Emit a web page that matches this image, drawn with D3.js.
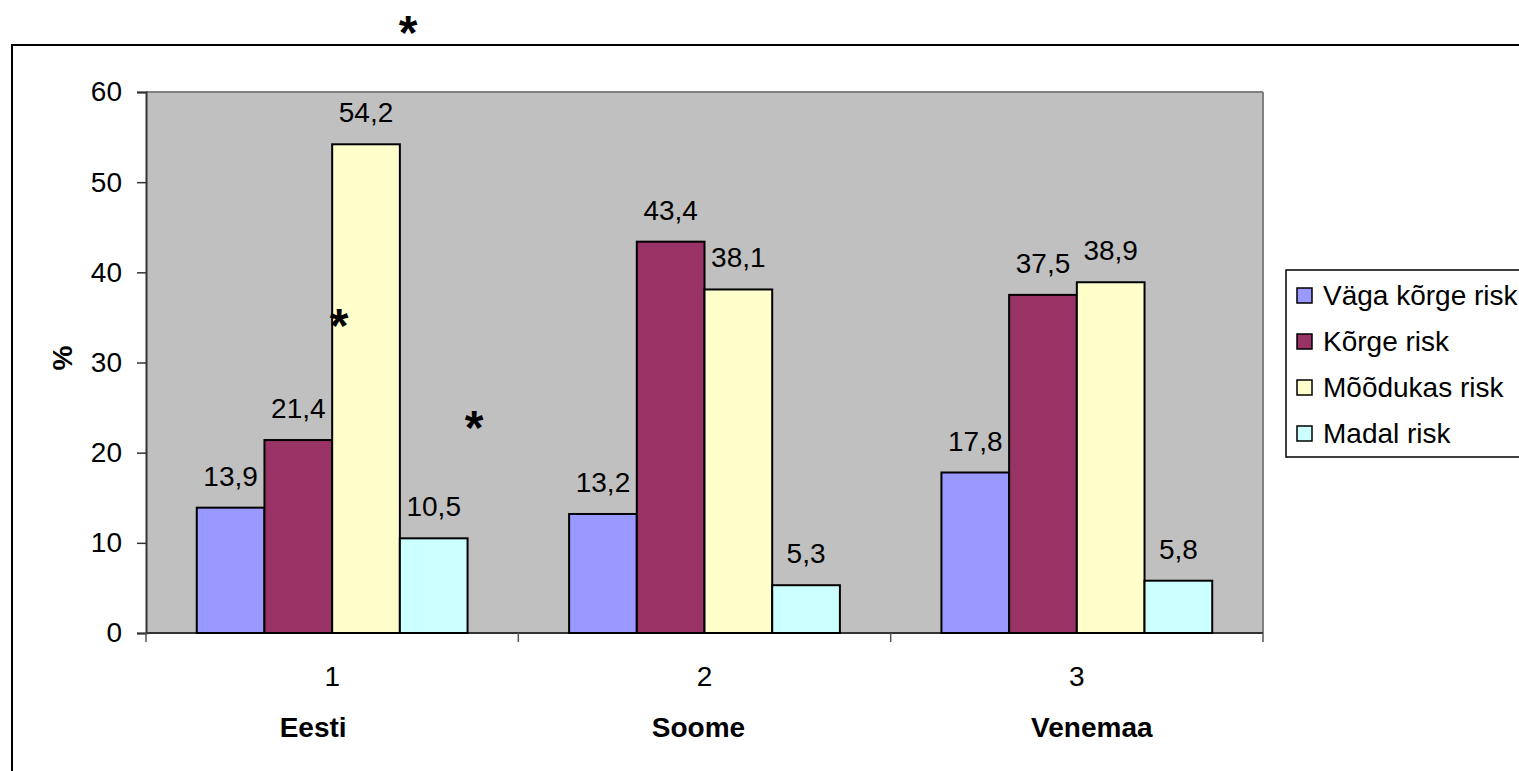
<!DOCTYPE html>
<html>
<head>
<meta charset="utf-8">
<script src="https://cdn.jsdelivr.net/npm/d3@7"></script>
<style>
  html, body { margin: 0; padding: 0; background: #fff; overflow: hidden; }
  svg { display: block; font-family: Arial, "Liberation Sans", sans-serif; }
</style>
</head>
<body>
<svg id="chart" width="1519" height="771"></svg>
<script>
// Riskirühmade jaotus riigiti (%)
const categories = ["1", "2", "3"];
const countryNames = ["Eesti", "Soome", "Venemaa"];
const seriesNames = ["Väga kõrge risk", "Kõrge risk", "Mõõdukas risk", "Madal risk"];
const vagaKorge = [13.9, 13.2, 17.8];
const korge = [21.4, 43.4, 37.5];
const moodukas = [54.2, 38.1, 38.9];
const madal = [10.5, 5.3, 5.8];
const yTicks = [0, 10, 20, 30, 40, 50, 60];
const seriesColors = ["#9999FF", "#993366", "#FFFFCC", "#CCFFFF"];

const seriesValues = [vagaKorge, korge, moodukas, madal];
const FS = 28;

const svg = d3.select("#chart");

// outer chart frame
svg.append("rect")
  .attr("x", 12).attr("y", 45)
  .attr("width", 1540).attr("height", 800)
  .attr("fill", "#fff").attr("stroke", "#000").attr("stroke-width", 2);

const plot = { left: 146, top: 92, right: 1263, bottom: 633 };

const x0 = d3.scaleBand()
  .domain(categories)
  .range([plot.left, plot.right])
  .paddingInner(0).paddingOuter(0);

// four bars per group, gap of 1.5 bar widths between groups
const barW = x0.bandwidth() / (4 + 1.5);
const x1 = d3.scaleBand()
  .domain(d3.range(seriesNames.length))
  .range([barW * 0.75, barW * 0.75 + barW * 4])
  .padding(0);

const y = d3.scaleLinear().domain([0, 60]).range([plot.bottom, plot.top]);

// plot area background
svg.append("rect")
  .attr("x", plot.left).attr("y", plot.top)
  .attr("width", plot.right - plot.left).attr("height", plot.bottom - plot.top)
  .attr("fill", "#C0C0C0");
svg.append("line")
  .attr("x1", plot.left).attr("x2", plot.right)
  .attr("y1", plot.top).attr("y2", plot.top)
  .attr("stroke", "#808080").attr("stroke-width", 2);
svg.append("line")
  .attr("x1", plot.right).attr("x2", plot.right)
  .attr("y1", plot.top).attr("y2", plot.bottom)
  .attr("stroke", "#808080").attr("stroke-width", 2);

// y axis
const yAxis = d3.axisLeft(y).tickValues(yTicks).tickSize(9).tickPadding(15);
const gy = svg.append("g").attr("transform", `translate(${plot.left},0)`).call(yAxis);
gy.select(".domain").attr("stroke", "#333").attr("stroke-width", 2);
gy.selectAll(".tick line").attr("stroke", "#333").attr("stroke-width", 1.5);
gy.selectAll(".tick text")
  .attr("font-size", FS).attr("fill", "#000")
  .attr("font-family", "Arial, 'Liberation Sans', sans-serif");

// x axis baseline and group separators
svg.append("line")
  .attr("x1", plot.left).attr("x2", plot.right)
  .attr("y1", plot.bottom).attr("y2", plot.bottom)
  .attr("stroke", "#333").attr("stroke-width", 2);
const sepPositions = categories.map(c => x0(c)).concat([plot.right]);
svg.selectAll("line.sep").data(sepPositions).enter().append("line")
  .attr("class", "sep")
  .attr("x1", d => d).attr("x2", d => d)
  .attr("y1", plot.bottom).attr("y2", plot.bottom + 9)
  .attr("stroke", "#555").attr("stroke-width", 1.5);

// category tick labels
svg.selectAll("text.cat").data(categories).enter().append("text")
  .attr("class", "cat")
  .attr("x", d => x0(d) + x0.bandwidth() / 2)
  .attr("y", 686)
  .attr("text-anchor", "middle")
  .attr("font-size", FS)
  .text(d => d);

// country names below the axis
const nameShift = [-19, -6, 15];
svg.selectAll("text.country").data(countryNames).enter().append("text")
  .attr("class", "country")
  .attr("x", (d, i) => x0(categories[i]) + x0.bandwidth() / 2 + nameShift[i])
  .attr("y", 737)
  .attr("text-anchor", "middle")
  .attr("font-size", FS)
  .attr("font-weight", "bold")
  .text(d => d);

// y axis title
svg.append("text")
  .attr("transform", "translate(72,358) rotate(-90)")
  .attr("text-anchor", "middle")
  .attr("font-size", FS)
  .attr("font-weight", "bold")
  .text("%");

// bars
const barData = [];
categories.forEach((c, ci) => {
  seriesValues.forEach((vals, si) => {
    barData.push({ cat: c, s: si, v: vals[ci] });
  });
});

svg.selectAll("rect.bar").data(barData).enter().append("rect")
  .attr("class", "bar")
  .attr("x", d => x0(d.cat) + x1(d.s))
  .attr("y", d => y(d.v))
  .attr("width", x1.bandwidth())
  .attr("height", d => y(0) - y(d.v))
  .attr("fill", d => seriesColors[d.s])
  .attr("stroke", "#000").attr("stroke-width", 2);

// value labels
const fmt = v => d3.format(".1f")(v).replace(".", ",");
svg.selectAll("text.val").data(barData).enter().append("text")
  .attr("class", "val")
  .attr("x", d => x0(d.cat) + x1(d.s) + x1.bandwidth() / 2)
  .attr("y", d => y(d.v) - 22)
  .attr("text-anchor", "middle")
  .attr("font-size", FS)
  .text(d => fmt(d.v));

// significance marks
const marks = [[408, 49], [339, 342], [474, 444]];
svg.selectAll("text.star").data(marks).enter().append("text")
  .attr("class", "star")
  .attr("x", d => d[0]).attr("y", d => d[1])
  .attr("text-anchor", "middle")
  .attr("font-size", 48)
  .attr("font-weight", "bold")
  .text("*");

// legend
const lg = svg.append("g").attr("transform", "translate(1286,270)");
lg.append("rect")
  .attr("width", 260).attr("height", 187)
  .attr("fill", "#fff").attr("stroke", "#000").attr("stroke-width", 1.5);
const items = lg.selectAll("g.item").data(seriesNames).enter().append("g")
  .attr("class", "item")
  .attr("transform", (d, i) => `translate(0,${25 + i * 46})`);
items.append("rect")
  .attr("x", 11).attr("y", -7).attr("width", 15).attr("height", 15)
  .attr("fill", (d, i) => seriesColors[i])
  .attr("stroke", "#000").attr("stroke-width", 1.5);
items.append("text")
  .attr("x", 37).attr("y", 10)
  .attr("font-size", FS)
  .text(d => d);
</script>
</body>
</html>
